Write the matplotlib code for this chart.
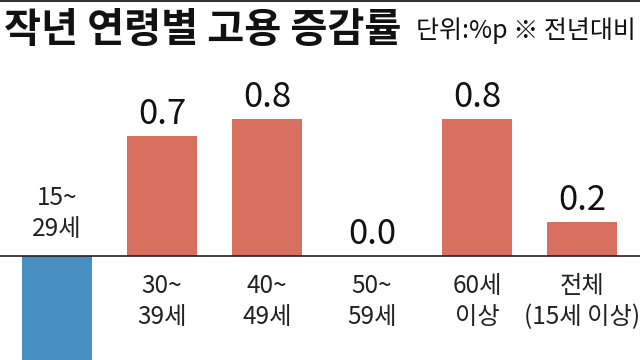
import matplotlib
matplotlib.use("Agg")
import matplotlib.pyplot as plt
import numpy as np

plt.rcParams['font.family'] = ['Noto Sans CJK KR', 'DejaVu Sans']

# 2024 employment rate change by age (%p, vs previous year)
categories = ["15~\n29세", "30~\n39세", "40~\n49세", "50~\n59세", "60세\n이상", "전체\n(15세 이상)"]
values = [-0.7, 0.7, 0.8, 0.0, 0.8, 0.2]
value_labels = ["-0.7", "0.7", "0.8", "0.0", "0.8", "0.2"]

title = "작년 연령별 고용 증감률"
subtitle = "단위:%p ※ 전년대비"

pos_color = "#D8705F"
neg_color = "#4890C2"

fig = plt.figure(figsize=(6.4, 3.6), dpi=100)
ax = fig.add_axes([0, 0, 1, 1])

x = np.arange(len(values))
colors = [neg_color if v < 0 else pos_color for v in values]
ax.bar(x, values, width=0.667, color=colors, zorder=2)

ax.set_xlim(-0.543, 5.552)
ax.set_ylim(-0.608, 1.497)
ax.axhline(0, color="#222222", lw=1.2, zorder=3)
ax.axis("off")

for xi, v, lab, cat in zip(x, values, value_labels, categories):
    if v >= 0:
        ax.annotate(lab, (xi, v), xytext=(0, 3), textcoords="offset points",
                    ha="center", va="bottom", fontsize=25, color="#111111")
        ax.annotate(cat, (xi, 0), xytext=(0, -12), textcoords="offset points",
                    ha="center", va="top", fontsize=17.5, color="#222222",
                    linespacing=1.25)
    else:
        ax.annotate(cat, (xi, 0), xytext=(0, 10), textcoords="offset points",
                    ha="center", va="bottom", fontsize=17.5, color="#222222",
                    linespacing=1.25)

fig.text(0.006, 0.915, title, fontsize=29, fontweight="bold", ha="left",
         va="center", color="#111111")
fig.text(0.994, 0.915, subtitle, fontsize=18, ha="right", va="center",
         color="#111111")
fig.add_artist(plt.Line2D([0, 1], [0.997, 0.997], color="#333333", lw=1.5))

fig.savefig("out.png", dpi=100)
